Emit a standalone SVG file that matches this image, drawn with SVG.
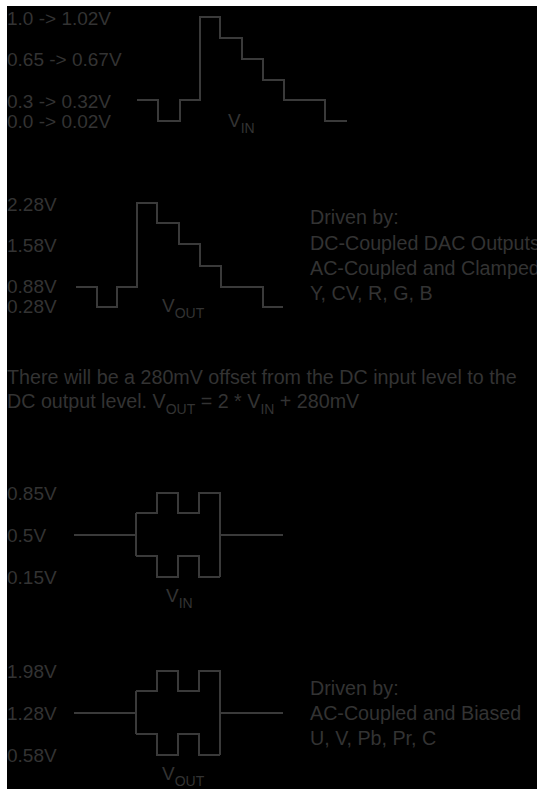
<svg xmlns="http://www.w3.org/2000/svg" width="537" height="789" viewBox="0 0 537 789">
<style>
text{font-family:"Liberation Sans",Arial,Helvetica,sans-serif;font-size:19px;fill:#333333}
.big{font-size:19.7px}
.sub{font-size:14px}
.w{fill:none;stroke:#3a3a3a;stroke-width:2;stroke-linejoin:miter}
</style>
<rect x="0" y="0" width="537" height="789" fill="#ffffff"/>
<rect x="7" y="6" width="530" height="783" fill="#000000"/>
<g id="vin-step-labels">
<text x="7" y="25">1.0 -&gt; 1.02V</text>
<text x="7" y="66">0.65 -&gt; 0.67V</text>
<text x="7" y="108">0.3 -&gt; 0.32V</text>
<text x="7" y="128">0.0 -&gt; 0.02V</text>
</g>
<g id="connectors">
<path id="vin-step" class="w" d="M137,100 H158 V121 H180 V100 H200 V17 H220 V38 H242 V59 H263 V80 H284 V100 H325 V121 H347"/>
<path id="vout-step" class="w" d="M76,287 H97 V307 H117 V287 H137 V203 H157 V223 H179 V244 H200 V266 H221 V287 H263 V307 H283"/>
<path id="vin-ac" class="w" d="M74,535 H136 M136,513 V556 M136,513 H157 V493 H178 V513 H199 V493 H220 V577 M136,556 H157 V577 H178 V556 H199 V577 H220 M220,535 H283"/>
<path id="vout-ac" class="w" d="M74,713 H136 M136,691 V734 M136,691 H157 V671 H178 V691 H199 V671 H220 V755 M136,734 H157 V755 H178 V734 H199 V755 H220 M220,713 H283"/>
</g>
<g id="vin-step-name"><text x="228" y="127">V<tspan class="sub" dy="6">IN</tspan></text></g>
<g id="vout-step-labels">
<text x="7" y="211">2.28V</text>
<text x="7" y="252">1.58V</text>
<text x="7" y="293">0.88V</text>
<text x="7" y="313">0.28V</text>
</g>
<g id="vout-step-name"><text x="162" y="312">V<tspan class="sub" dy="6">OUT</tspan></text></g>
<g id="driven-dc">
<text class="big" x="310" y="224">Driven by:</text>
<text class="big" x="310" y="250">DC-Coupled DAC Outputs</text>
<text class="big" x="310" y="275">AC-Coupled and Clamped</text>
<text class="big" x="310" y="300">Y, CV, R, G, B</text>
</g>
<g id="offset-note">
<text class="big" x="7" y="384">There will be a 280mV offset from the DC input level to the</text>
<text class="big" x="7" y="408">DC output level. V<tspan class="sub" dy="6">OUT</tspan><tspan dy="-6"> = 2 * V</tspan><tspan class="sub" dy="6">IN</tspan><tspan dy="-6"> + 280mV</tspan></text>
</g>
<g id="vin-ac-labels">
<text x="7" y="500">0.85V</text>
<text x="7" y="542">0.5V</text>
<text x="7" y="584">0.15V</text>
</g>
<g id="vin-ac-name"><text x="166" y="602">V<tspan class="sub" dy="6">IN</tspan></text></g>
<g id="vout-ac-labels">
<text x="7" y="678">1.98V</text>
<text x="7" y="720">1.28V</text>
<text x="7" y="762">0.58V</text>
</g>
<g id="vout-ac-name"><text x="162" y="780">V<tspan class="sub" dy="6">OUT</tspan></text></g>
<g id="driven-ac">
<text class="big" x="310" y="695">Driven by:</text>
<text class="big" x="310" y="720">AC-Coupled and Biased</text>
<text class="big" x="310" y="745">U, V, Pb, Pr, C</text>
</g>
</svg>
